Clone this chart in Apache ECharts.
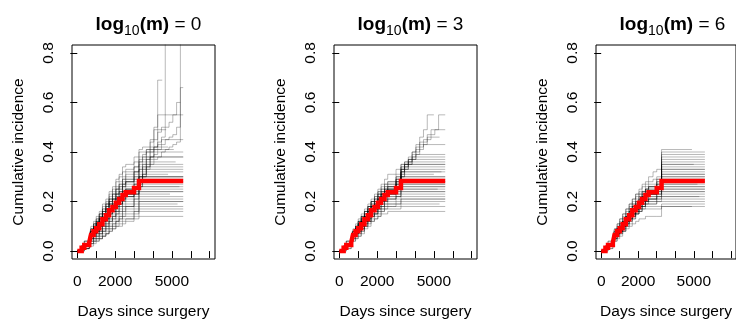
<!DOCTYPE html>
<html><head><meta charset="utf-8">
<script src="https://cdn.jsdelivr.net/npm/echarts@6/dist/echarts.min.js"></script>
<style>html,body{margin:0;padding:0;background:#fff}#c{width:736px;height:325px}</style>
</head><body><div id="c"></div>
<script>
// Event-time grid (days since surgery). Each curve lists its cumulative incidence (percent)
// at these times up to its last jump, then stays flat until its own end (censoring) time.
const timeGrid = [0,230,370,630,720,860,1000,1160,1330,1510,1680,1860,2040,2210,2390,2560,2800,3000,3260,3450,3650,3850,4050,4250,4450,4650,4850,5050,5250,5450];
// Point estimate (red)
const redPct = [0,1.3,2.5,3.5,6.5,8,9.2,10.8,12.8,14.5,16.5,17.8,19.5,21,22.6,23.7,23.7,25.5,28.3];
const redEnd = 5600;
const panelM = [0, 3, 6];
const xTicks = [0,1000,2000,3000,4000,5000,6000,7000];
const xTickLabels = [0,2000,5000];
const yTicks = [0,0.2,0.4,0.6,0.8];

// Panel log10(m) = 0 : grey resampled curves
const p1Lines = [
[0,1,1,2,3,4,5,5,6,7,8,9,10,10,11,12,12,13,14],
[0,1,1,2,4,5,5,6,7,8,9,10,11,12,13,13,13,14,16],
[0,1,2,2,4,5,6,7,8,9,10,11,12,13,14,14,14,15,17],
[0,1,2,2,4,5,6,7,8,9,10,11,12,13,14,15,15,16,18],
[0,1,2,3,5,6,6,7,9,10,11,12,13,14,15,16,16,17,19],
[0,1,2,3,5,6,7,8,9,10,12,13,14,15,16,17,17,18,20],
[0,1,2,3,5,6,7,8,10,11,12,13,15,16,17,18,18,19,21],
[0,1,2,3,5,6,7,8,10,11,13,14,15,16,18,18,18,20,22],
[0,1,2,3,5,7,8,9,10,12,13,14,16,17,18,19,19,21,23],
[0,1,2,3,6,7,8,9,11,12,14,15,16,18,19,20,20,22,24],
[0,1,2,3,6,7,8,10,11,13,15,16,17,19,20,21,21,23,25],
[0,1,2,3,6,7,8,10,12,13,15,16,18,19,21,22,22,23,26],
[0,1,2,3,6,8,9,10,12,14,16,17,19,20,22,23,23,24,27],
[0,1,2,3,6,8,9,11,13,14,16,18,19,21,22,23,23,25,28],
[0,1,3,4,7,8,9,11,13,15,17,18,20,21,23,24,24,26,29],
[0,1,3,4,7,8,10,11,13,15,17,19,21,22,24,25,25,27,30],
[0,1,3,4,7,9,10,12,14,16,18,19,21,23,25,26,26,28,31],
[0,1,3,4,7,9,10,12,14,16,19,20,22,24,26,27,27,29,32],
[0,2,3,4,8,9,11,13,15,17,19,21,23,24,26,28,28,30,33],
[0,2,3,4,8,10,11,13,15,17,20,21,23,25,27,28,28,31,34],
[0,2,3,4,8,10,11,13,16,18,20,22,24,26,28,29,29,32,35],
[0,2,3,5,8,10,12,14,16,19,21,23,25,27,29,30,30,32,36],
[0,2,3,5,9,11,12,15,17,19,22,24,26,28,30,32,32,34,38],
[0,2,4,5,9,11,13,15,18,20,23,25,28,30,32,33,33,36,40],
[0,2,4,5,10,12,14,16,19,21,24,26,29,31,34,35,35,38,41,42],
[0,1,3,4,7,8,10,11,13,15,17,19,21,22,24,25,25,27,30,35,40,45,50,69],
[0,1,2,3,6,8,9,11,13,14,16,18,19,21,22,23,23,25,28,33,37,41,45,48,50,100],
[0,1,2,3,6,7,8,10,12,13,15,16,18,19,21,22,22,23,26,30,33,35,37,38,40,41,42,43,44,100],
[0,1,2,3,6,8,9,11,13,14,16,18,19,21,22,23,23,25,28,31,34,37,39,41,43,45,46,47,50,66],
[0,1,3,4,7,8,10,11,13,15,17,19,21,22,24,25,25,27,30,34,37,40,42,44,46,50,52,55,60],
[0,1,2,3,6,7,8,10,12,13,15,16,18,19,21,22,22,23,26,30,34,38,42,55],
[0,1,2,3,6,8,9,10,12,14,16,17,19,20,22,23,23,24,27,31,35,38,41,43,45],
[0,2,3,4,8,9,11,13,15,17,19,21,23,24,26,28,28,30,33,37,41,44,49],
[0,2,4,6,9,11,13,15,17,19,21,23,25,26,27,28,28,29,30],
[0,0,1,1,3,4,5,6,8,10,12,14,16,18,20,22,22,25,30],
[0,0,1,1,2,3,4,5,6,7,9,10,12,14,16,18,18,21,24],
[0,2,3,5,8,10,12,14,16,18,20,21,22,23,24,25,25,25,26],
[0,1,3,4,7,9,11,13,15,17,19,21,23,25,27,29,29,32,36,38],
[0,2,3,5,8,10,12,14,16,18,21,23,25,27,29,31,31,34,37,39,41],
[0,0,1,1,3,4,4,5,6,7,8,9,10,11,12,13,13,16,20]
];
const p1End = [5600,5600,5600,5600,5300,5600,5600,5600,4900,5600,5600,5400,5600,5600,5600,5600,4800,5600,5600,5600,5600,5200,5600,5600,4800,4490,5000,5600,5600,5450,5600,5600,4700,5600,5600,5600,5600,5600,5100,5600];

// Panel log10(m) = 3
const p2Lines = [
[0,1,2,3,5,6,7,8,10,11,12,13,14,15,15,16],
[0,1,2,3,5,6,7,9,10,12,13,14,15,16,17,17,17,17,18],
[0,1,2,3,5,7,8,9,11,12,14,15,16,17,18,18,18,18,19],
[0,1,2,3,6,7,8,9,11,12,14,15,16,17,18,19,19,19,20],
[0,1,2,3,6,7,8,10,11,13,14,15,17,18,19,19,19,20,21],
[0,1,2,3,6,7,8,10,12,13,15,16,17,18,19,20,20,21,22],
[0,1,2,3,6,7,9,10,12,14,15,16,18,19,20,21,21,22,23],
[0,1,2,3,6,8,9,10,12,14,16,17,18,20,21,22,22,23,24],
[0,1,2,3,6,8,9,11,13,14,16,17,19,20,21,22,22,23,25],
[0,1,2,4,6,8,9,11,13,15,16,18,19,21,22,23,23,24,26],
[0,1,2,4,7,8,9,11,13,15,17,18,20,21,22,23,23,25,27],
[0,1,3,4,7,8,10,11,13,15,17,18,20,21,23,24,24,25,28],
[0,1,2,3,6,8,9,11,12,14,16,17,19,20,22,23,23,25,28],
[0,1,3,4,7,8,10,11,13,15,17,18,20,22,23,24,24,26,29],
[0,1,3,4,7,8,10,12,14,15,17,19,20,22,23,24,24,26,30],
[0,1,3,4,7,9,10,12,14,16,18,19,21,22,24,25,25,27,31],
[0,1,3,4,7,9,10,12,14,16,18,19,21,23,24,25,25,27,32],
[0,2,3,4,7,9,11,12,14,16,18,20,21,23,24,25,25,28,33],
[0,2,3,4,7,9,11,13,15,17,18,20,22,23,25,26,26,28,32,34],
[0,2,3,5,8,9,11,13,15,17,19,20,22,24,25,26,26,29,33,35],
[0,2,3,5,8,10,11,13,15,17,19,21,23,24,26,27,27,29,33,34,36],
[0,2,3,5,8,10,12,14,16,18,20,21,23,25,26,27,27,30,34,35,36,37],
[0,2,3,5,8,10,12,14,16,18,20,22,24,25,27,28,28,30,34,35,36,37,38],
[0,2,4,5,8,10,12,14,16,18,20,22,24,26,27,28,28,31,35,36,37,38,39],
[0,1,3,4,7,9,10,12,14,16,18,19,21,23,24,25,25,28,32,35,37,39,41,43],
[0,1,2,4,7,8,10,11,13,15,17,18,20,22,23,24,24,27,30,33,35,38,40,42,44,46],
[0,2,3,4,7,9,11,12,14,16,18,20,22,23,25,26,26,29,33,36,38,40,42,44,45,47,49],
[0,1,3,4,7,9,10,12,14,16,18,19,21,23,24,25,25,28,31,34,37,40,43,46,49,55],
[0,1,2,4,7,8,10,11,13,15,17,18,20,21,23,24,24,27,30,33,35,37,39,41,43,45,47,49,55],
[0,2,4,5,8,10,12,14,16,18,20,21,23,24,25,26,26,26,27],
[0,0,1,2,4,5,6,8,10,12,14,15,17,18,20,21,21,22,25],
[0,2,4,6,9,11,13,15,17,19,21,23,25,27,29,31,31,33,35],
[0,0,1,2,4,5,6,7,9,10,12,13,14,16,17,18,18,19,21],
[0,1,2,4,6,8,9,11,13,14,16,18,19,21,22,23,23,25,30],
[0,1,2,3,6,8,9,11,12,14,16,17,19,20,22,23,23,24,26],
[0,1,2,3,6,7,9,10,12,13,15,16,18,19,20,21,21,22,24],
[0,1,2,4,7,8,10,11,13,15,17,18,20,21,23,24,24,26,32]
];
const p2End = [5600,5600,5300,5600,5600,5600,5600,5600,5200,5600,5600,5600,5600,5600,5600,5000,5600,5600,5600,5600,5600,5600,5600,5600,5600,5300,5600,5000,5600,5600,5600,5600,5600,5600,5600,5600,5400];

// Panel log10(m) = 6
const p3Lines = [
[0,1,2,3,5,7,8,9,11,12,14,15,16,17,17,17,17,17,18],
[0,1,2,3,6,7,8,10,11,13,14,15,16,17,18],
[0,1,2,3,5,6,7,8,9,10,11,12,13,13,14,14,14,14,19],
[0,1,2,3,5,7,8,9,11,13,14,16,17,18,19,19,19,20,20],
[0,1,2,3,6,7,8,10,11,13,15,16,17,18,19,19,19,20,21],
[0,1,2,3,6,7,8,10,12,13,15,16,18,19,20,20,20,21,22],
[0,1,2,4,6,8,9,10,12,14,15,17,18,19,20,21,21,21,22],
[0,1,2,3,6,7,9,10,12,14,15,17,18,19,20,21,21,22,23],
[0,1,2,3,6,8,9,11,12,14,16,17,19,20,21,22,22,23,24],
[0,1,2,3,6,8,9,11,13,14,16,17,19,20,22,23,23,24,25],
[0,1,2,4,6,8,9,11,13,15,16,18,19,21,22,23,23,24,26],
[0,1,2,3,6,8,9,11,13,14,16,18,19,21,22,23,23,25,27],
[0,1,2,4,7,8,9,11,13,15,17,18,20,21,23,24,24,25,28],
[0,1,2,3,6,8,9,10,12,14,16,17,19,20,22,23,23,25,28],
[0,1,3,4,7,8,10,11,13,15,17,18,20,21,23,24,24,25,29],
[0,1,2,3,6,8,9,11,13,15,16,18,19,21,22,23,23,25,30],
[0,1,3,4,7,8,10,11,13,15,17,18,20,22,23,24,24,26,31],
[0,1,2,4,6,8,9,11,13,15,17,18,20,21,23,24,24,26,32],
[0,1,3,4,7,9,10,12,14,15,17,19,20,22,23,24,24,26,33],
[0,1,2,4,7,8,10,11,13,15,17,18,20,22,23,24,24,26,34],
[0,1,3,4,7,9,10,12,14,16,18,19,21,22,24,25,25,27,35],
[0,1,2,3,6,8,9,11,13,14,16,18,19,21,22,23,23,25,35],
[0,1,3,4,7,9,10,12,14,16,18,19,21,23,24,25,25,27,36],
[0,2,3,4,7,9,11,12,14,16,18,20,22,23,25,26,26,28,38],
[0,1,3,4,7,9,10,12,14,16,18,20,21,23,25,26,26,28,39],
[0,2,3,5,8,9,11,13,15,17,19,20,22,24,25,26,26,29,40],
[0,2,3,5,8,10,11,13,15,17,19,21,23,24,26,27,27,29,41],
[0,2,4,6,9,11,13,15,17,19,21,23,25,27,28,30,32,33],
[0,2,4,6,9,11,13,15,17,19,21,23,24,26,27,28,29,30],
[0,2,3,5,8,10,12,14,16,18,20,22,23,24,25,26,26,27],
[0,0,1,2,4,5,6,8,10,12,13,15,16,18,19,20,20,22,25],
[0,0,1,2,4,6,7,8,10,11,13,15,17,18,20,21,21,23,29],
[0,1,2,3,6,7,9,10,12,14,15,17,18,20,21,22,22,23,26],
[0,1,2,3,5,7,8,10,12,13,15,16,18,19,20,21,21,22,24],
[0,1,2,4,6,8,9,11,12,14,16,17,19,20,22,23,23,24,31],
[0,1,2,4,7,8,10,11,13,15,17,18,20,22,23,24,24,26,37]
];
const p3End = [5600,4900,5600,5600,5600,5600,5300,5600,5600,5600,5600,5200,5600,5600,5600,5600,5600,5600,5600,5600,5000,5600,5600,5600,5600,5600,4900,5600,5600,5600,5600,5600,5600,5600,5600,5600];

const panelLines = [p1Lines, p2Lines, p3Lines];
const panelEnds = [p1End, p2End, p3End];

const FONT = '"Liberation Sans", Arial, Helvetica, sans-serif';
const boxLefts = [72, 334, 596];
const boxW = 143, boxTop = 45, boxH = 218;

function toPts(vals, end) {
  const pts = vals.map((v, i) => [timeGrid[i], v / 100]);
  const last = vals.length - 1;
  if (end > timeGrid[last]) pts.push([end, vals[last] / 100]);
  return pts;
}

const grids = [], xAxes = [], yAxes = [], series = [], titles = [];
panelM.forEach((m, i) => {
  grids.push({left: boxLefts[i], top: boxTop, width: boxW, height: boxH, show: true,
    borderColor: '#000', borderWidth: 1, backgroundColor: 'transparent', containLabel: false});
  xAxes.push({gridIndex: i, type: 'value', min: -280, max: 7280,
    axisLine: {show: false}, splitLine: {show: false},
    axisTick: {show: true, customValues: xTicks, length: 7, lineStyle: {color: '#000', width: 1}},
    axisLabel: {customValues: xTickLabels, margin: 15, fontSize: 15.5, color: '#000', fontFamily: FONT,
      formatter: v => String(v)},
    name: 'Days since surgery', nameLocation: 'middle', nameGap: 45,
    nameTextStyle: {fontSize: 15.5, color: '#000', fontFamily: FONT}});
  yAxes.push({gridIndex: i, type: 'value', min: -0.032, max: 0.832,
    axisLine: {show: false}, splitLine: {show: false},
    axisTick: {show: true, customValues: yTicks, length: 7, lineStyle: {color: '#000', width: 1}},
    axisLabel: {customValues: yTicks, rotate: 90, margin: 15, fontSize: 15.5, color: '#000', fontFamily: FONT,
      formatter: v => v.toFixed(1)},
    name: 'Cumulative incidence', nameLocation: 'middle', nameGap: 45,
    nameTextStyle: {fontSize: 15.5, color: '#000', fontFamily: FONT}});
  panelLines[i].forEach((arr, k) => {
    series.push({type: 'line', xAxisIndex: i, yAxisIndex: i, step: 'end', showSymbol: false,
      silent: true, animation: false, clip: true, z: 2,
      lineStyle: {color: 'rgba(0,0,0,0.28)', width: 1}, data: toPts(arr, panelEnds[i][k])});
  });
  series.push({type: 'line', xAxisIndex: i, yAxisIndex: i, step: 'end', showSymbol: false,
    silent: true, animation: false, clip: true, z: 5,
    lineStyle: {color: '#ff0000', width: 4.5, join: 'miter', cap: 'butt'}, data: toPts(redPct, redEnd)});
  titles.push({text: '{b|log}{s|10}{b|(m)}{n| = ' + m + '}', left: boxLefts[i] + boxW / 2, top: 7,
    textAlign: 'center',
    textStyle: {fontWeight: 'normal', rich: {
      b: {fontSize: 19, fontWeight: 'bold', fontFamily: FONT, color: '#000', lineHeight: 26},
      s: {fontSize: 14, fontWeight: 'normal', fontFamily: FONT, color: '#000', lineHeight: 14, verticalAlign: 'bottom'},
      n: {fontSize: 19, fontWeight: 'normal', fontFamily: FONT, color: '#000', lineHeight: 26}
    }}});
});

const chart = echarts.init(document.getElementById('c'), null, {renderer: 'canvas'});
chart.setOption({animation: false, backgroundColor: '#fff', title: titles, grid: grids,
  xAxis: xAxes, yAxis: yAxes, series: series});
</script></body></html>
